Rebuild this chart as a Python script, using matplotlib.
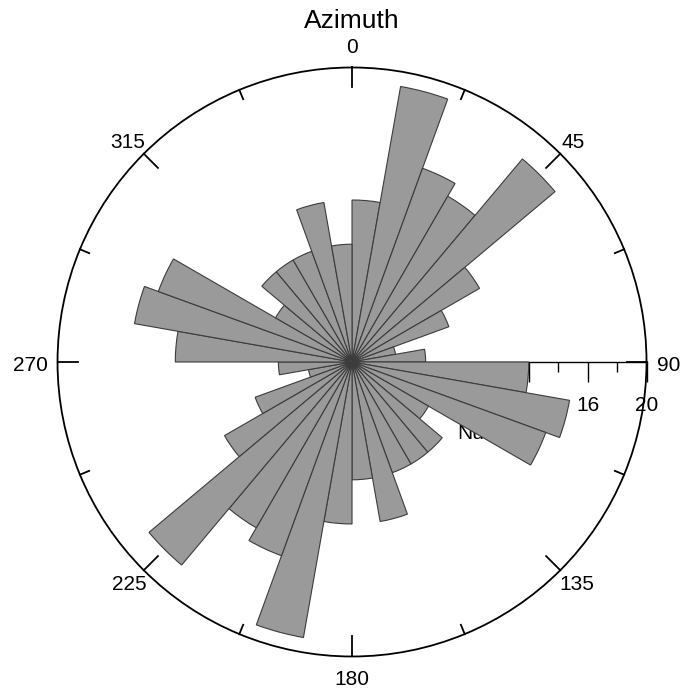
import numpy as np
import matplotlib
matplotlib.use('Agg')
import matplotlib.pyplot as plt

plt.rcParams['font.family'] = ['Liberation Sans', 'DejaVu Sans']

# ---- data ----
bin_start_deg = [0, 10, 20, 30, 40, 50, 60, 70, 80, 90, 100, 110, 120, 130, 140, 150, 160, 170,
                 180, 190, 200, 210, 220, 230, 240, 250, 260, 270, 280, 290, 300, 310, 320, 330, 340, 350]
counts = [11, 19, 14, 13, 18, 10, 7, 3, 5, 12, 15, 14, 6, 8, 8, 8, 11, 8,
          11, 19, 14, 13, 18, 10, 7, 3, 5, 12, 15, 14, 6, 8, 8, 8, 11, 8]
bin_width_deg = 10

angle_label_deg = [0, 45, 90, 135, 180, 225, 270, 315]
angle_labels = ['0', '45', '90', '135', '180', '225', '270', '315']
angle_tick_deg = [0, 22.5, 45, 67.5, 90, 112.5, 135, 157.5, 180, 202.5, 225, 247.5,
                  270, 292.5, 315, 337.5]

radial_minor = [2, 6, 10, 14, 18]
radial_major = [4, 8, 12, 16, 20]
radial_labels = ['4', '8', '12', '16', '20']
rmax = 20

# ---- figure ----
fig = plt.figure(figsize=(6.84, 6.95), dpi=100)
ax = fig.add_axes([0.0841, 0.0554, 0.8611, 0.8475], projection='polar')
ax.set_theta_zero_location('N')
ax.set_theta_direction(-1)
ax.set_ylim(0, rmax)
ax.grid(False)
ax.set_xticks([])
ax.set_yticks([])
ax.spines['polar'].set_linewidth(1.3)
ax.spines['polar'].set_zorder(6)

px_per_unit = 294.5 / rmax

# radial axis (drawn below bars)
east = np.pi / 2
ax.plot([east, east], [0, rmax], color='black', lw=1.0, zorder=1, clip_on=False)
ax.plot([east] * len(radial_minor), radial_minor, ls='none', marker=3,
        markersize=10 * 0.72, mew=1.0, color='black', zorder=1, clip_on=False)
ax.plot([east] * len(radial_major), radial_major, ls='none', marker=3,
        markersize=20 * 0.72, mew=1.0, color='black', zorder=1, clip_on=False)
for v, lbl in zip(radial_major, radial_labels):
    ax.annotate(lbl, xy=(east, v), xytext=(0, -49), textcoords='offset pixels',
                ha='center', va='baseline', fontsize=15, zorder=1, annotation_clip=False)
ax.annotate('Number', xy=(east, 7.13), xytext=(0, -77), textcoords='offset pixels',
            ha='left', va='baseline', fontsize=15, zorder=1, annotation_clip=False)

# bars
theta = np.deg2rad(np.array(bin_start_deg) + bin_width_deg / 2)
ax.bar(theta, counts, width=np.deg2rad(bin_width_deg), bottom=0,
       color='#9a9a9a', edgecolor='#3c3c3c', linewidth=0.8, zorder=3)

# angular ticks (inward)
for d in angle_tick_deg:
    L = 20 if d % 45 == 0 else 10
    th = np.deg2rad(d)
    ax.plot([th, th], [rmax - L / px_per_unit, rmax], color='black', lw=1.3,
            zorder=6, clip_on=False)

# angular labels
label_place = {
    0: ('center', (0, 14)),
    45: ('left', (1, 6)),
    90: ('left', (10, -8.7)),
    135: ('left', (-1, -20)),
    180: ('center', (0, -28.5)),
    225: ('right', (3, -20)),
    270: ('right', (-10, -8.7)),
    315: ('right', (1, 6)),
}
for d, lbl in zip(angle_label_deg, angle_labels):
    ha, off = label_place[d]
    ax.annotate(lbl, xy=(np.deg2rad(d), rmax), xytext=off, textcoords='offset pixels',
                ha=ha, va='baseline', fontsize=15, zorder=7, annotation_clip=False)

fig.text(352 / 684, 1 - 28 / 695, 'Azimuth', ha='center', va='baseline', fontsize=19)

fig.savefig('out.png', dpi=100)
